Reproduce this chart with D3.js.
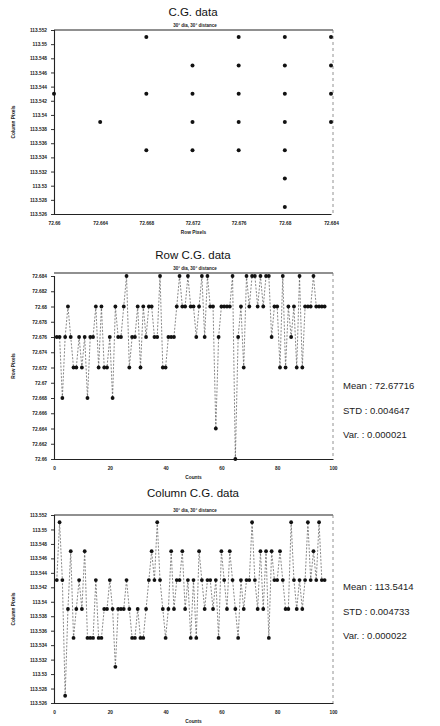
<!DOCTYPE html>
<html><head><meta charset="utf-8">
<script src="https://cdn.jsdelivr.net/npm/d3@7"></script>
<style>body{margin:0;background:#fff}svg{display:block}text{font-family:"Liberation Sans",Arial,sans-serif}</style>
</head><body><svg id="c" width="440" height="726"></svg>
<script>
// ---- data ----
const scatterRow = [72.668,72.676,72.68,72.684, 72.672,72.676,72.68,72.684, 72.66,72.668,72.672,72.676,72.68,72.684, 72.664,72.672,72.676,72.68,72.684, 72.668,72.672,72.676,72.68, 72.68, 72.68];
const scatterCol = [113.551,113.551,113.551,113.551, 113.547,113.547,113.547,113.547, 113.543,113.543,113.543,113.543,113.543,113.543, 113.539,113.539,113.539,113.539,113.539, 113.535,113.535,113.535,113.535, 113.531, 113.527];
const rowSeries = [72.676,72.676,72.668,72.676,72.68,72.676,72.672,72.672,72.676,72.672,
72.676,72.668,72.676,72.676,72.68,72.672,72.68,72.672,72.672,72.676,
72.668,72.68,72.676,72.676,72.68,72.684,72.672,72.676,72.676,72.68,
72.672,72.68,72.676,72.68,72.68,72.676,72.676,72.684,72.672,72.672,
72.676,72.676,72.676,72.68,72.684,72.68,72.68,72.684,72.68,72.68,
72.676,72.68,72.684,72.676,72.684,72.68,72.68,72.664,72.676,72.68,
72.68,72.68,72.68,72.684,72.66,72.676,72.68,72.672,72.684,72.68,
72.684,72.684,72.68,72.684,72.68,72.684,72.684,72.676,72.68,72.68,
72.672,72.684,72.672,72.68,72.676,72.68,72.672,72.684,72.672,72.68,
72.68,72.68,72.684,72.68,72.68,72.68,72.68];
const colSeries = [113.543,113.551,113.543,113.527,113.539,113.547,113.535,113.539,113.543,113.539,
113.547,113.535,113.535,113.535,113.543,113.535,113.535,113.539,113.539,113.543,
113.539,113.531,113.539,113.539,113.539,113.543,113.539,113.535,113.535,113.539,
113.535,113.535,113.539,113.543,113.547,113.543,113.551,113.543,113.539,113.535,
113.539,113.547,113.539,113.543,113.543,113.547,113.539,113.543,113.535,113.543,
113.535,113.547,113.543,113.539,113.543,113.543,113.539,113.543,113.535,113.547,
113.543,113.539,113.547,113.543,113.539,113.535,113.543,113.539,113.543,113.543,
113.551,113.543,113.539,113.547,113.539,113.547,113.535,113.547,113.543,113.543,
113.547,113.543,113.539,113.539,113.551,113.543,113.539,113.543,113.539,113.543,
113.551,113.543,113.547,113.543,113.551,113.543,113.543];
const rowTicks = ["72.66","72.662","72.664","72.666","72.668","72.67","72.672","72.674","72.676","72.678","72.68","72.682","72.684"];
const colTicks = ["113.526","113.528","113.53","113.532","113.534","113.536","113.538","113.54","113.542","113.544","113.546","113.548","113.55","113.552"];
const scatterXTicks = ["72.66","72.664","72.668","72.672","72.676","72.68","72.684"];
const countTicks = ["0","20","40","60","80","100"];
const rowStats = ["Mean : 72.67716","STD : 0.004647","Var. : 0.000021"];
const colStats = ["Mean : 113.5414","STD : 0.004733","Var. : 0.000022"];
const subtitle = "30° dia, 30° distance";

const svg = d3.select("#c");
const L = 54, R = 333;

function frame(g, x, y, top, bottom, yTicks, xTicks, title, titleY, xLabel, yLabel) {
  g.append("text").attr("x", 193).attr("y", titleY).attr("text-anchor","middle")
    .attr("font-size", 11.5).attr("fill","#111").text(title);
  g.append("text").attr("x", 195).attr("y", top - 3).attr("text-anchor","middle")
    .attr("font-size", 4.5).attr("font-weight","bold").attr("fill","#222").text(subtitle);
  // frame: top solid, right dashed
  g.append("line").attr("x1",L).attr("x2",R).attr("y1",top).attr("y2",top).attr("stroke","#222").attr("stroke-width",1.2);
  g.append("line").attr("x1",R).attr("x2",R).attr("y1",top).attr("y2",bottom).attr("stroke","#777").attr("stroke-width",0.8).attr("stroke-dasharray","3,3");
  const ya = d3.axisLeft(y).tickValues(yTicks.map(Number)).tickFormat((d,i)=>yTicks[i]).tickSize(3).tickPadding(4);
  const yg = g.append("g").attr("transform",`translate(${L},0)`).call(ya);
  const xa = d3.axisBottom(x).tickValues(xTicks.map(Number)).tickFormat((d,i)=>xTicks[i]).tickSize(0).tickPadding(8);
  const xg = g.append("g").attr("transform",`translate(0,${bottom})`).call(xa);
  [yg, xg].forEach(a => {
    a.select(".domain").attr("stroke","#222").attr("stroke-width",1.1);
    a.selectAll("line").attr("stroke","#333");
    a.selectAll("text").attr("font-size",4.8).attr("font-weight","bold").attr("fill","#222");
  });
  g.append("text").attr("x", (L+R)/2).attr("y", bottom + 20).attr("text-anchor","middle")
    .attr("font-size",4.8).attr("font-weight","bold").attr("fill","#222").text(xLabel);
  g.append("text").attr("transform",`translate(15,${(top+bottom)/2}) rotate(-90)`).attr("text-anchor","middle")
    .attr("font-size",4.8).attr("font-weight","bold").attr("fill","#222").text(yLabel);
}

// ---- chart 1: scatter ----
{
  const g = svg.append("g");
  const x = d3.scaleLinear().domain([72.66, 72.684]).range([L, 331]);
  const y = d3.scaleLinear().domain([113.526, 113.552]).range([214, 30]);
  frame(g, x, y, 30, 214, colTicks, scatterXTicks, "C.G. data", 16, "Row Pixels", "Column Pixels");
  g.selectAll("circle.p").data(scatterRow).join("circle").attr("class","p")
    .attr("cx",(d)=>x(d)).attr("cy",(d,i)=>y(scatterCol[i])).attr("r",2).attr("fill","#111");
}

function series(g, data, x, y) {
  const line = d3.line().x((d,i)=>x(i+1)).y(d=>y(d));
  g.append("path").datum(data).attr("d", line).attr("fill","none")
    .attr("stroke","#555").attr("stroke-width",0.7).attr("stroke-dasharray","2,1.5");
  g.selectAll("circle.m").data(data).join("circle").attr("class","m")
    .attr("cx",(d,i)=>x(i+1)).attr("cy",d=>y(d)).attr("r",1.9).attr("fill","#111");
}

// ---- chart 2: row series ----
{
  const g = svg.append("g");
  const x = d3.scaleLinear().domain([0,100]).range([L, R]);
  const y = d3.scaleLinear().domain([72.66, 72.684]).range([459, 276]);
  frame(g, x, y, 273, 459, rowTicks, countTicks, "Row C.G. data", 259, "Counts", "Row Pixels");
  series(g, rowSeries, x, y);
  rowStats.forEach((s,i)=>g.append("text").attr("x",343).attr("y",389+i*24.5)
    .attr("font-size",9.5).attr("fill","#222").text(s));
}

// ---- chart 3: column series ----
{
  const g = svg.append("g");
  const x = d3.scaleLinear().domain([0,100]).range([L, R]);
  const y = d3.scaleLinear().domain([113.526, 113.552]).range([703, 515]);
  frame(g, x, y, 515, 703, colTicks, countTicks, "Column C.G. data", 497, "Counts", "Column Pixels");
  series(g, colSeries, x, y);
  colStats.forEach((s,i)=>g.append("text").attr("x",343).attr("y",590+i*24.5)
    .attr("font-size",9.5).attr("fill","#222").text(s));
}
</script></body></html>
